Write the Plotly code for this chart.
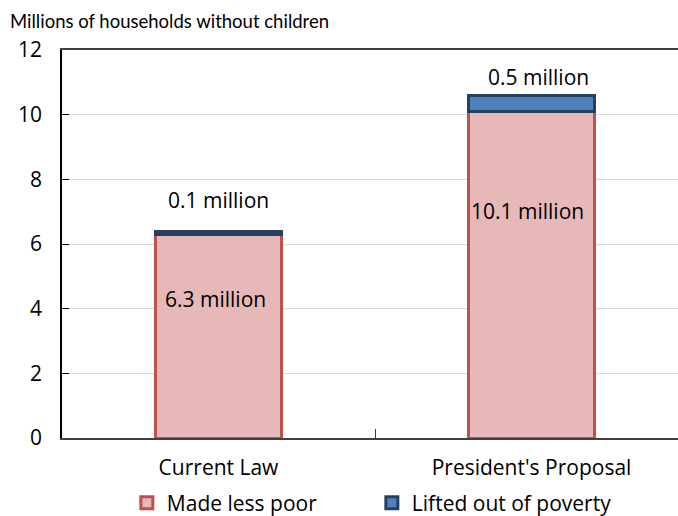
import plotly.graph_objects as go

categories = ["Current Law", "President's Proposal"]
made_less_poor = [6.3, 10.1]
lifted_out = [0.1, 0.5]
label_less_poor = ["6.3 million", "10.1 million"]
label_lifted = ["0.1 million", "0.5 million"]
y_ticks = [0, 2, 4, 6, 8, 10, 12]

FONT = "Open Sans"
FS = 21
fig = go.Figure()
fig.add_trace(go.Bar(
    x=categories, y=made_less_poor, name="Made less poor",
    width=0.405,
    marker=dict(color="#E6B9B8", line=dict(color="#C0504D", width=3)),
))
fig.add_trace(go.Bar(
    x=categories, y=lifted_out, name="Lifted out of poverty",
    width=0.405,
    marker=dict(color="#4F81BD", line=dict(color="#254061", width=3)),
))

# labels
annots = []
inner_y = [4.3, 7.02]
outer_y = [7.36, 11.17]
inner_shift = [-3, -4]
outer_shift = [0, 7]
for i, c in enumerate(categories):
    annots.append(dict(x=c, y=inner_y[i], text=label_less_poor[i], showarrow=False,
                       xshift=inner_shift[i], font=dict(size=FS, color="#000000", family=FONT)))
    annots.append(dict(x=c, y=outer_y[i], text=label_lifted[i], showarrow=False,
                       xshift=outer_shift[i], font=dict(size=FS, color="#000000", family=FONT)))
annots.append(dict(xref="paper", yref="paper", x=-0.0877, y=1.075, xanchor="left", yanchor="middle",
                   text="Millions of households without children", showarrow=False,
                   font=dict(size=18.5, color="#000000", family="Lato")))

fig.update_layout(
    width=678, height=516,
    margin=dict(l=62, r=0, t=50, b=78, autoexpand=False),
    barmode="stack",
    plot_bgcolor="white", paper_bgcolor="white",
    font=dict(family=FONT, size=FS, color="#000000"),
    annotations=annots,
    legend=dict(orientation="h", x=0.503, xanchor="center", y=-0.1675, yanchor="middle",
                entrywidth=200, entrywidthmode="pixels",
                font=dict(size=FS, family=FONT), traceorder="normal", itemwidth=30),
    xaxis=dict(range=[-0.5, 1.468], showline=True, linecolor="#404040", linewidth=1.5,
               mirror=True, ticks="inside", tickson="boundaries", ticklen=9,
               tickcolor="#404040", ticklabelstandoff=10, showgrid=False, automargin=False,
               tickfont=dict(size=FS, family=FONT)),
    yaxis=dict(range=[0, 12], tickvals=y_ticks, showline=True, linecolor="#000000",
               linewidth=1.5, ticks="inside", ticklen=7, tickcolor="#000000",
               showgrid=True, gridcolor="#D9D9D9", gridwidth=1, zeroline=False, automargin=False,
               ticklabelstandoff=14, tickfont=dict(size=FS, family=FONT)),
)
fig.write_html("out.html", config={"displayModeBar": False},
               post_script="document.body.style.margin='0';document.body.style.overflow='hidden';")
